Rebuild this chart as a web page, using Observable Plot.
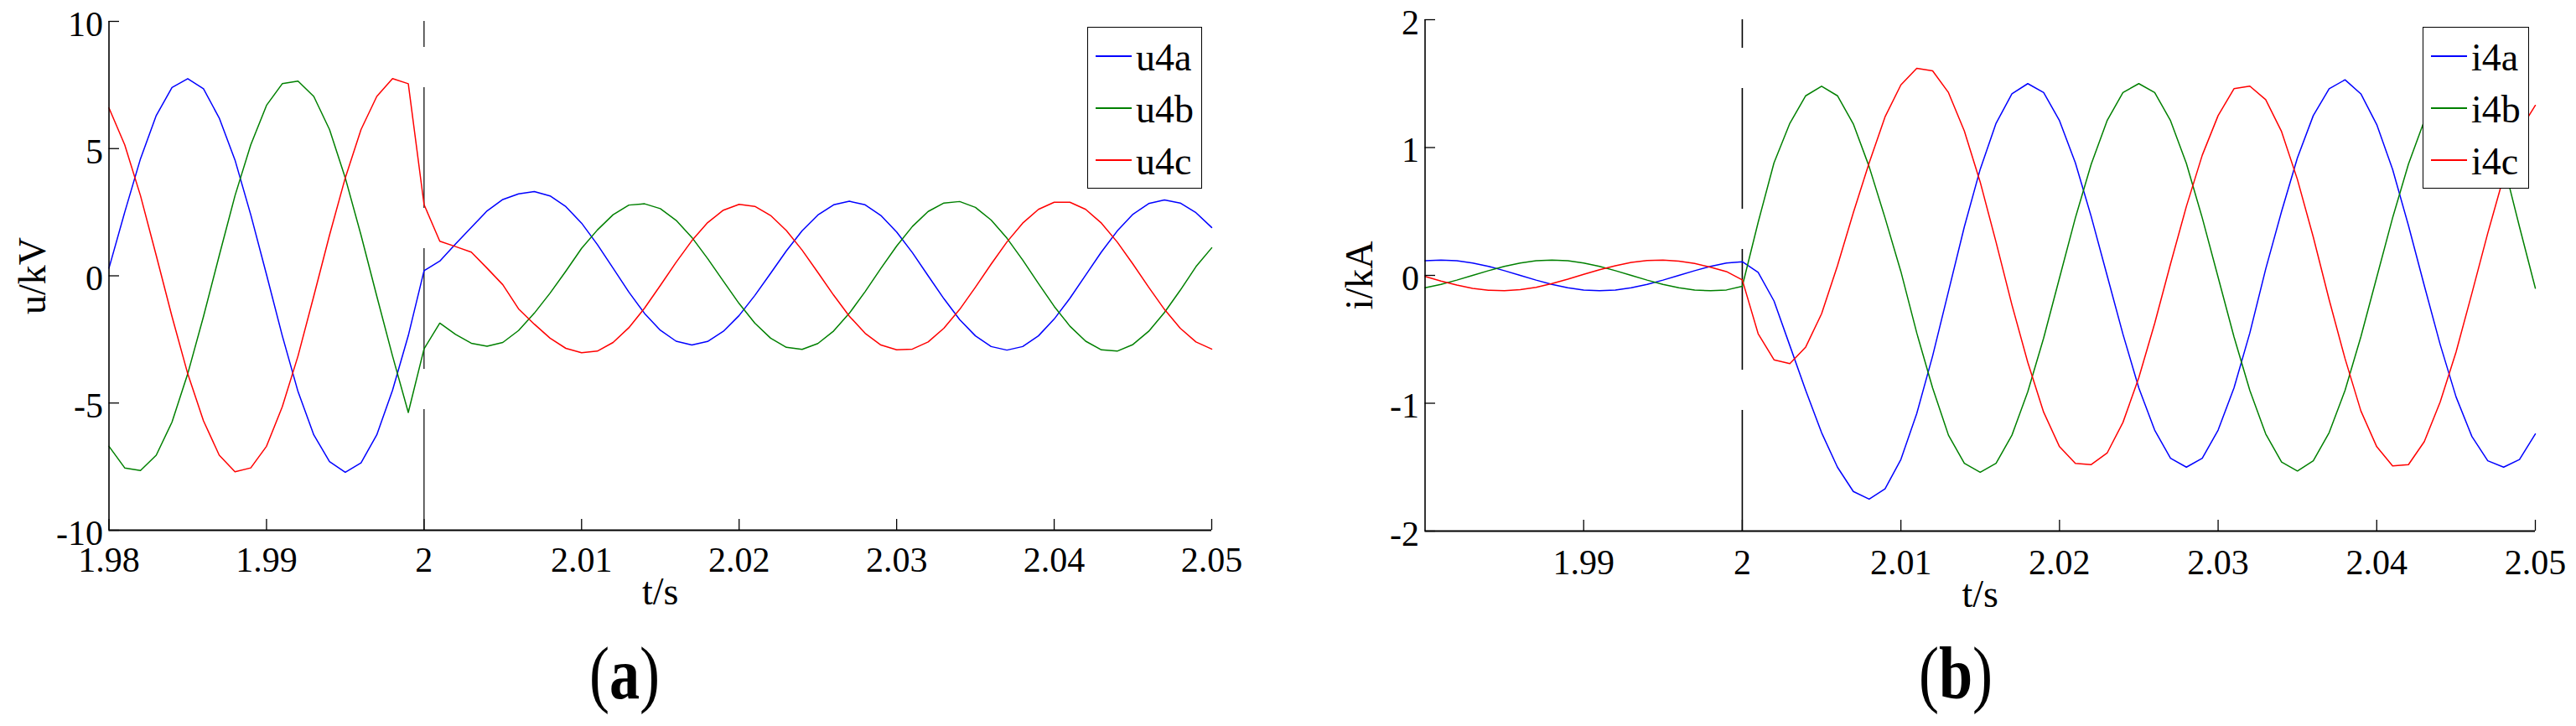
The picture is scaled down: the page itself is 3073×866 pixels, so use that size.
<!DOCTYPE html>
<html>
<head>
<meta charset="utf-8">
<script src="https://cdn.jsdelivr.net/npm/d3@7"></script>
<script src="https://cdn.jsdelivr.net/npm/@observablehq/plot@0.6"></script>
<style>
  html, body { margin: 0; padding: 0; background: #fff; }
  #fig { position: relative; width: 3073px; height: 866px; overflow: hidden;
         font-family: "Liberation Serif", "DejaVu Serif", serif; color: #000; }
  .panel { position: absolute; top: 0; }
  .panel text { font-family: "Liberation Serif", "DejaVu Serif", serif; }
  .legend { position: absolute; background: #fff; border: 1.5px solid #000; box-sizing: border-box; }
  .legend .sw { position: absolute; height: 2px; }
  .legend .lab { position: absolute; font-size: 46px; line-height: 1; white-space: nowrap; }
  .cap { position: absolute; font-size: 88px; line-height: 1; white-space: nowrap;
         transform: translateX(-50%) scaleX(0.82); transform-origin: center; }
</style>
</head>
<body>
<div id="fig"></div>
<script>
// ---------------- data ----------------
const time = [1.980,1.981,1.982,1.983,1.984,1.985,1.986,1.987,1.988,1.989,
  1.990,1.991,1.992,1.993,1.994,1.995,1.996,1.997,1.998,1.999,
  2.000,2.001,2.002,2.003,2.004,2.005,2.006,2.007,2.008,2.009,
  2.010,2.011,2.012,2.013,2.014,2.015,2.016,2.017,2.018,2.019,
  2.020,2.021,2.022,2.023,2.024,2.025,2.026,2.027,2.028,2.029,
  2.030,2.031,2.032,2.033,2.034,2.035,2.036,2.037,2.038,2.039,
  2.040,2.041,2.042,2.043,2.044,2.045,2.046,2.047,2.048,2.049,2.050];

const faultTime = 2.0;

// (a) voltages, kV
const voltageNames = ["u4a", "u4b", "u4c"];
const u4a = [0.3,2.5,4.6,6.3,7.4,7.75,7.35,6.2,4.55,2.4,0.05,-2.35,-4.55,-6.25,-7.3,-7.72,-7.35,-6.25,-4.5,-2.35,
  0.2,0.58,1.25,1.9,2.55,3.0,3.22,
  3.31,3.14,2.72,2.07,1.23,0.3,-0.64,-1.48,-2.14,-2.57,-2.72,
  -2.58,-2.18,-1.56,-0.77,0.1,0.98,1.77,2.39,2.79,2.93,
  2.79,2.37,1.72,0.91,0.0,-0.9,-1.72,-2.36,-2.78,-2.92,
  -2.78,-2.36,-1.7,-0.88,0.03,0.94,1.76,2.42,2.84,2.98,
  2.86,2.48,1.9];
const u4b = [-6.7,-7.55,-7.65,-7.05,-5.75,-3.85,-1.6,0.8,3.15,5.15,6.7,7.55,7.65,7.05,5.75,3.85,1.6,-0.8,-3.15,-5.37,
  -2.87,-1.86,-2.3,-2.65,-2.77,
  -2.62,-2.15,-1.47,-0.68,0.18,1.08,1.8,2.4,2.78,
  2.83,2.64,2.18,1.51,0.68,-0.21,-1.09,-1.86,-2.45,-2.81,-2.89,
  -2.66,-2.17,-1.47,-0.62,0.29,1.17,1.94,2.53,2.86,2.92,
  2.69,2.19,1.48,0.62,-0.3,-1.2,-1.98,-2.57,-2.91,-2.96,
  -2.7,-2.18,-1.44,-0.57,0.36,1.1];
const u4c = [6.6,5.15,3.15,0.8,-1.6,-3.85,-5.7,-7.05,-7.7,-7.55,-6.7,-5.15,-3.15,-0.8,1.6,3.85,5.75,7.05,7.75,7.55,
  2.8,1.36,1.15,0.93,0.3,-0.35,-1.3,-1.9,-2.45,-2.85,
  -3.02,-2.96,-2.62,-2.04,-1.27,-0.38,0.53,1.38,2.09,2.58,2.81,
  2.73,2.37,1.78,1.01,0.13,-0.76,-1.59,-2.26,-2.72,-2.91,
  -2.88,-2.6,-2.06,-1.32,-0.45,0.46,1.33,2.07,2.61,2.89,
  2.89,2.61,2.07,1.33,0.46,-0.45,-1.32,-2.06,-2.6,-2.88];

// (b) currents, kA
const currentNames = ["i4a", "i4b", "i4c"];
const i4a = [0.114,0.12,0.114,0.097,0.071,0.037,0,-0.037,-0.071,-0.097,-0.114,-0.12,-0.114,-0.097,-0.071,-0.037,0,0.037,0.071,0.097,
  0.107,0.024,-0.2,-0.55,-0.9,-1.23,-1.5,-1.69,-1.75,
  -1.67,-1.44,-1.08,-0.63,-0.125,0.38,0.83,1.19,1.42,1.5,
  1.43,1.21,0.88,0.46,0,-0.46,-0.88,-1.21,-1.43,-1.5,
  -1.43,-1.21,-0.88,-0.45,0.05,0.5,0.92,1.25,1.46,1.53,
  1.42,1.18,0.83,0.39,-0.08,-0.54,-0.95,-1.26,-1.45,-1.5,
  -1.44,-1.24];
const i4b = [-0.097,-0.071,-0.037,0,0.037,0.071,0.097,0.114,0.12,0.114,0.097,0.071,0.037,0,-0.037,-0.071,-0.097,-0.114,-0.12,-0.114,
  -0.085,0.415,0.88,1.19,1.405,1.48,
  1.405,1.185,0.85,0.45,0.03,
  -0.45,-0.88,-1.25,-1.47,-1.54,
  -1.47,-1.25,-0.91,-0.49,-0.02,
  0.45,0.87,1.21,1.43,1.5,
  1.43,1.21,0.875,0.45,-0.015,
  -0.48,-0.9,-1.24,-1.46,-1.53,
  -1.45,-1.23,-0.9,-0.48,-0.015,
  0.45,0.87,1.21,1.43,1.5,
  1.43,1.21,0.875,0.38,-0.1];
const i4c = [-0.008,-0.044,-0.076,-0.101,-0.116,-0.12,-0.112,-0.093,-0.064,-0.03,0.008,0.044,0.076,0.101,0.116,0.12,0.112,0.093,0.064,0.03,
  -0.035,-0.456,-0.66,-0.69,-0.56,-0.3,
  0.076,0.49,0.88,1.24,1.49,
  1.62,1.6,1.43,1.13,0.73,
  0.26,-0.23,-0.68,-1.07,-1.34,
  -1.47,-1.48,-1.39,-1.15,-0.8,
  -0.375,0.09,0.54,0.94,1.25,
  1.46,1.48,1.375,1.125,0.75,
  0.3,-0.19,-0.65,-1.06,-1.34,
  -1.49,-1.48,-1.3,-0.99,-0.6,
  -0.14,0.33,0.77,1.13,1.33];

// ticks and labels
const xTicksA = [1.98, 1.99, 2, 2.01, 2.02, 2.03, 2.04, 2.05];
const yTicksA = [-10, -5, 0, 5, 10];
const xTicksB = [1.99, 2, 2.01, 2.02, 2.03, 2.04, 2.05];
const yTicksB = [-2, -1, 0, 1, 2];
const yDomainA = [-10, 10];
const yDomainB = [-2, 2];
const xLabel = "t/s";
const yLabelA = "u/kV";
const yLabelB = "i/kA";
const captionA = "a";
const captionB = "b";
const seriesColors = ["#0000ff", "#008000", "#ff0000"];

// ---------------- build ----------------
const FONT = '"Liberation Serif", "DejaVu Serif", serif';
const xDomain = [time[0], time[time.length - 1]];
function rows(names, arrays) {
  return names.flatMap((n, j) => time.map((t, i) => ({t, v: arrays[j][i], s: n})));
}
const rowsA = rows(voltageNames, [u4a, u4b, u4c]);
const rowsB = rows(currentNames, [i4a, i4b, i4c]);
const fmt = d => String(d);

function panel({W, ml, mr, mt, mb, H, data, names, yDomain, xTicks, yTicks, yLabel,
                xPad, yLabelDx, xLabelDy, faultWidth}) {
  return Plot.plot({
    width: W, height: H,
    marginLeft: ml, marginRight: mr, marginTop: mt, marginBottom: mb,
    style: {fontFamily: FONT, fontSize: "42px",
            background: "transparent", color: "#000", overflow: "visible"},
    x: {domain: xDomain},
    y: {domain: yDomain},
    color: {domain: names, range: seriesColors},
    marks: [
      Plot.ruleX([faultTime], {y1: yDomain[0], y2: yDomain[1], stroke: "#000",
                               strokeWidth: faultWidth, strokeDasharray: "144,48"}),
      Plot.line(data, {x: "t", y: "v", z: "s", stroke: "s", strokeWidth: 1.5}),
      Plot.ruleX([xDomain[0]], {stroke: "#000", strokeWidth: 1.6}),
      Plot.ruleY([yDomain[0]], {stroke: "#000", strokeWidth: 1.8}),
      Plot.axisX(xTicks, {tickSize: -13, tickFormat: () => "", strokeWidth: 1.3, label: null}),
      Plot.axisX(xTicks, {tickSize: 0, tickPadding: xPad, tickFormat: fmt, fontSize: 42, label: null}),
      Plot.axisY(yTicks, {tickSize: -12.5, tickFormat: () => "", strokeWidth: 1.3, label: null}),
      Plot.axisY(yTicks, {tickSize: 0, tickPadding: 7, dy: 4, tickFormat: fmt, fontSize: 42, label: null}),
      Plot.text([yLabel], {frameAnchor: "left", textAnchor: "middle", lineAnchor: "middle",
                           rotate: -90, dx: yLabelDx, fontSize: 46}),
      Plot.text([xLabel], {frameAnchor: "bottom", textAnchor: "middle", lineAnchor: "middle",
                           dy: xLabelDy, fontSize: 46})
    ]
  });
}

const fig = document.getElementById("fig");

const plotA = panel({W: 1536, H: 740, ml: 129.5, mr: 91, mt: 25, mb: 108,
  data: rowsA, names: voltageNames, yDomain: yDomainA, xTicks: xTicksA, yTicks: yTicksA,
  yLabel: yLabelA, xPad: 19.5, yLabelDx: -90.5, xLabelDy: 74, faultWidth: 1.2});
plotA.classList.add("panel");
plotA.style.left = "0px";
fig.appendChild(plotA);

const plotB = panel({W: 1537, H: 740, ml: 163.5, mr: 49, mt: 23, mb: 107,
  data: rowsB, names: currentNames, yDomain: yDomainB, xTicks: xTicksB, yTicks: yTicksB,
  yLabel: yLabelB, xPad: 22, yLabelDx: -77.5, xLabelDy: 76, faultWidth: 1.6});
plotB.classList.add("panel");
plotB.style.left = "1536px";
fig.appendChild(plotB);

// legends (inside the plot areas, opaque)
function legend(names, left, top, width, height) {
  const box = document.createElement("div");
  box.className = "legend";
  Object.assign(box.style, {left: left + "px", top: top + "px", width: width + "px", height: height + "px"});
  const centers = [34, 96, 158];
  names.forEach((n, i) => {
    const sw = document.createElement("div");
    sw.className = "sw";
    Object.assign(sw.style, {left: "9px", width: "43px", top: (centers[i] - 1) + "px", background: seriesColors[i]});
    const lab = document.createElement("div");
    lab.className = "lab";
    lab.textContent = n;
    Object.assign(lab.style, {left: "57px", top: (centers[i] - 21) + "px"});
    box.appendChild(sw);
    box.appendChild(lab);
  });
  fig.appendChild(box);
}
legend(voltageNames, 1297, 32, 137, 193);
legend(currentNames, 2890, 32, 127, 193);

// captions
function caption(letter, cx) {
  const c = document.createElement("div");
  c.className = "cap";
  c.style.left = cx + "px";
  c.style.top = "760px";
  c.innerHTML = "(<b>" + letter + "</b>)";
  fig.appendChild(c);
}
caption(captionA, 745);
caption(captionB, 2333);
</script>
</body>
</html>
